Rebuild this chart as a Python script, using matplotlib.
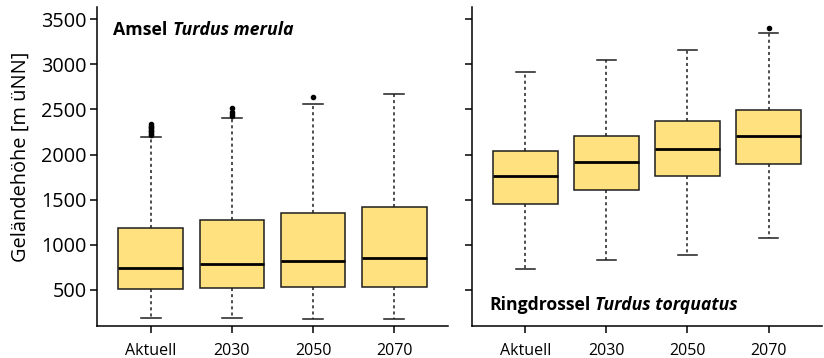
import numpy as np
import matplotlib.pyplot as plt

plt.rcParams['font.family'] = ['Open Sans', 'DejaVu Sans']

periods = ['Aktuell', '2030', '2050', '2070']

# Amsel: whisker low, Q1, median, Q3, whisker high, outliers
amsel_wlo = [181, 188, 177, 177]
amsel_q1 = [511, 521, 525, 532]
amsel_med = [744, 784, 821, 847]
amsel_q3 = [1185, 1269, 1350, 1420]
amsel_whi = [2196, 2401, 2560, 2674]
amsel_out = [[2215, 2230, 2245, 2260, 2275, 2290, 2305, 2320, 2338],
             [2425, 2445, 2468, 2519],
             [2638],
             []]

# Ringdrossel
ring_wlo = [729, 832, 887, 1073]
ring_q1 = [1447, 1602, 1758, 1898]
ring_med = [1758, 1920, 2064, 2205]
ring_q3 = [2035, 2205, 2368, 2497]
ring_whi = [2919, 3048, 3159, 3348]
ring_out = [[], [], [], [3403]]


def make_stats(wlo, q1, med, q3, whi, out):
    stats = []
    for i in range(len(periods)):
        stats.append(dict(whislo=wlo[i], q1=q1[i], med=med[i], q3=q3[i],
                          whishi=whi[i], fliers=np.array(out[i]),
                          label=periods[i]))
    return stats


def draw(ax, stats):
    ax.bxp(stats, positions=[1, 2, 3, 4], widths=0.8, patch_artist=True,
           capwidths=0.24,
           boxprops=dict(facecolor='#ffe17f', edgecolor='#1e1e1e', linewidth=1.1),
           medianprops=dict(color='black', linewidth=2),
           whiskerprops=dict(color='#1e1e1e', linewidth=1.1, linestyle=(0, (2, 2))),
           capprops=dict(color='#1e1e1e', linewidth=1.1),
           flierprops=dict(marker='o', markersize=3, markerfacecolor='black',
                           markeredgecolor='black'))
    ax.set_xlim(0.34, 4.66)
    ax.set_ylim(101, 3633)
    ax.set_yticks([500, 1000, 1500, 2000, 2500, 3000, 3500])
    ax.set_xticks([1, 2, 3, 4])
    ax.set_xticklabels(periods)
    for s in ['top', 'right']:
        ax.spines[s].set_visible(False)
    for s in ['left', 'bottom']:
        ax.spines[s].set_linewidth(1.1)
    ax.tick_params(direction='out', length=5, width=1.1)
    ax.tick_params(axis='x', labelsize=11.5, pad=7.5)
    ax.tick_params(axis='y', labelsize=14.3, pad=2.5)


def species_label(ax, x, y, name, latin, size):
    t = ax.text(x, y, name, transform=ax.transAxes, fontsize=size,
                fontweight='bold', ha='left', va='baseline')
    ax.annotate(latin, xy=(1, 0), xycoords=t, xytext=(3.5, 0),
                textcoords='offset points', fontsize=size, fontweight='bold',
                fontstyle='italic', ha='left', va='bottom')


fig = plt.figure(figsize=(8.24, 3.58), dpi=100)
ax1 = fig.add_axes([0.1181, 0.0902, 0.4252, 0.8894])
ax2 = fig.add_axes([0.5725, 0.0902, 0.4252, 0.8894])

draw(ax1, make_stats(amsel_wlo, amsel_q1, amsel_med, amsel_q3, amsel_whi, amsel_out))
draw(ax2, make_stats(ring_wlo, ring_q1, ring_med, ring_q3, ring_whi, ring_out))
ax2.set_yticklabels([])

ax1.set_ylabel('Geländehöhe [m üNN]', fontsize=14.4, va='center')
ax1.yaxis.set_label_coords(-0.218, 0.53)

species_label(ax1, 0.046, 0.914, 'Amsel', 'Turdus merula', 12.8)
species_label(ax2, 0.05, 0.05, 'Ringdrossel', 'Turdus torquatus', 12.7)

fig.savefig('out.png', dpi=100)
